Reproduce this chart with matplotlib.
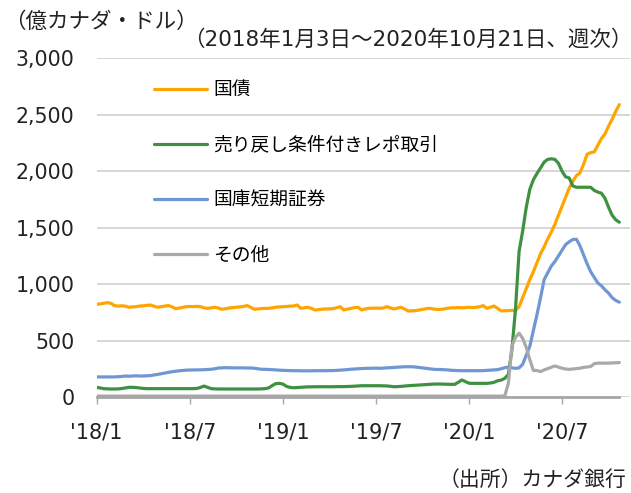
import pandas as pd
import matplotlib.pyplot as plt
import matplotlib.dates as mdates
from matplotlib.ticker import FuncFormatter

plt.rcParams['font.family'] = ['DejaVu Sans', 'Noto Sans CJK JP']

# weekly, 2018-01-03 .. 2020-10-21 (147 weeks)
dates = pd.date_range('2018-01-03', '2020-10-21', freq='W-WED')

# 国債
bonds = [821, 825, 830, 836, 830, 809, 805, 808, 805, 795, 798, 800, 806, 808, 812, 815,
         805, 795, 800, 805, 810, 800, 782, 788, 795, 800, 802, 800, 803, 800, 790, 785,
         790, 795, 788, 777, 782, 788, 792, 795, 798, 802, 810, 795, 777, 780, 783, 785,
         785, 790, 795, 798, 800, 802, 805, 806, 815, 786, 790, 795, 785, 771, 774, 778,
         780, 780, 783, 790, 800, 771, 778, 785, 792, 795, 771, 780, 786, 786, 788, 786,
         788, 800, 790, 780, 788, 795, 780, 762, 763, 765, 770, 776, 782, 786, 780, 776,
         776, 780, 786, 790, 790, 792, 790, 792, 795, 792, 795, 800, 809, 786, 795, 806,
         785, 762, 765, 765, 768,
         765, 800, 880, 960, 1040, 1110, 1190, 1270, 1330, 1400, 1460, 1530, 1610, 1690,
         1770, 1850, 1910, 1960, 1985, 2060, 2150, 2165, 2170, 2230, 2290, 2330, 2400,
         2460, 2530, 2590]

# 売り戻し条件付きレポ取引
repo = [86, 80, 74, 72, 71, 71, 72, 75, 80, 86, 86, 84, 80,
        76, 74, 74, 74, 74, 74, 74, 74, 74, 74, 74, 74, 74, 74, 74, 76, 85, 97, 85,
        74, 72, 71, 71, 71, 71, 71, 71, 71, 71, 71, 71, 71, 71, 72, 74, 80,
        100, 118, 121, 115, 95, 85, 82, 84, 86, 88, 90,
        90, 91, 91, 91, 91, 91, 91, 92, 92, 92, 93, 94, 96,
        98, 100, 100, 100, 100, 100, 100, 99, 98, 95, 91, 92, 94, 97, 100,
        102, 104, 106, 108, 110, 112, 114, 115, 115, 114, 113, 112, 112,
        130, 151, 136, 122, 121, 121, 121, 121, 121, 124, 130, 144, 150, 165,
        200, 420, 780, 1290, 1470, 1680, 1840, 1925, 1980, 2030, 2080, 2105, 2110, 2105,
        2070, 2000, 1950, 1940, 1870, 1858, 1858, 1858, 1858, 1858, 1830, 1815, 1805,
        1760, 1680, 1610, 1570, 1548]

# 国庫短期証券
tbills = [178, 178, 178, 178, 178, 178, 180, 182,
          186, 184, 186, 188, 186, 186, 188, 190, 195,
          200, 206, 212, 218, 224, 228, 232, 235, 238,
          239, 240, 240, 241, 242, 244, 246, 250,
          257, 258, 260, 259, 258, 258, 258, 258, 257, 257, 255, 250,
          246, 245, 244, 242, 240, 238, 236, 235, 234,
          233, 233, 232, 232, 232, 232, 233, 233, 233, 233, 234, 234, 236, 238, 240,
          243, 246, 248, 250, 252, 254, 254, 255, 256, 254, 256, 258, 260, 262, 264,
          266, 268, 268, 268, 266, 262, 258, 254, 250, 246, 244, 244,
          242, 240, 237, 235, 234, 233, 233, 233, 233, 233, 233, 234, 236, 238, 240, 243,
          250, 260, 265, 258, 254, 258, 290, 370, 450, 590, 730, 880, 1040, 1100, 1160,
          1200, 1250, 1300, 1350, 1375, 1395, 1398, 1340, 1260, 1180, 1110, 1060, 1010,
          985, 950, 920, 880, 855, 840]

# その他
other = [8, 8, 8, 8, 8, 8, 8, 8, 8, 8, 8, 8, 8, 8, 8, 8, 8, 8, 8, 8,
         8, 8, 8, 8, 8, 8, 8, 8, 8, 8, 8, 8, 8, 8, 8, 8, 8, 8, 8, 8,
         8, 8, 8, 8, 8, 8, 8, 8, 8, 8, 8, 8, 8, 8, 8, 8, 8, 8, 8, 8,
         8, 8, 8, 8, 8, 8, 8, 8, 8, 8, 8, 8, 8, 8, 8, 8, 8, 8, 8, 8,
         8, 8, 8, 8, 8, 8, 8, 8, 8, 8, 8, 8, 8, 8, 8, 8, 8, 8, 8, 8,
         8, 8, 8, 8, 8, 8, 8, 8, 8, 8, 8, 8, 8, 8,
         10, 120, 450, 530, 565, 520, 440, 330, 235, 235, 225, 240, 252, 265, 275, 265,
         255, 248, 245, 248, 252, 255, 262, 266, 270, 295, 300, 300, 300, 300, 302, 303, 305]

labels = ['国債', '売り戻し条件付きレポ取引', '国庫短期証券', 'その他']
colors = ['#FFA500', '#3F9142', '#6F97D3', '#A9A9A9']
tick_labels = ["'18/1", "'18/7", "'19/1", "'19/7", "'20/1", "'20/7"]

fig = plt.figure(figsize=(6.31, 4.93), dpi=100)
ax = fig.add_axes([0.1532, 0.1947, 0.8453, 0.687])

for s, lab, c in zip([bonds, repo, tbills, other], labels, colors):
    ax.plot(dates, s, color=c, lw=2.3, label=lab, solid_capstyle='round')

ax.set_ylim(0, 3000)
ax.set_yticks(range(0, 3001, 500))
ax.yaxis.set_major_formatter(FuncFormatter(lambda v, p: f'{int(v):,}'))
ax.set_xlim(dates[0], dates[0] + pd.Timedelta(weeks=149))
ax.set_xticks(dates[::26])
ax.set_xticklabels(tick_labels)

ax.grid(axis='y', color='#D0D0D0', lw=1.2)
ax.set_axisbelow(True)
for sp in ['top', 'right', 'left']:
    ax.spines[sp].set_visible(False)
ax.spines['bottom'].set_color('#A6A6A6')
ax.spines['bottom'].set_linewidth(2)
ax.spines['bottom'].set_bounds(mdates.date2num(dates[0]), mdates.date2num(dates[-1]))
ax.tick_params(axis='y', length=0, pad=16, labelsize=14.8, labelcolor='#222222')
ax.tick_params(axis='x', length=5, width=1, color='#A6A6A6', pad=13, labelsize=15,
               labelcolor='#222222')

ax.legend(loc='upper left', bbox_to_anchor=(0.108, 0.935), frameon=False, fontsize=13.5,
          handlelength=2.8, handletextpad=0.35, labelspacing=1.93, borderaxespad=0,
          borderpad=0)

fig.text(0.006, 0.956, '（億カナダ・ドル）', fontsize=15.5, va='center', ha='left',
         color='#222222')
fig.text(0.29, 0.92, '（2018年1月3日～2020年10月21日、週次）', fontsize=15.5,
         va='center', ha='left', color='#222222')
fig.text(0.992, 0.026, '（出所）カナダ銀行', fontsize=15, va='center', ha='right',
         color='#222222')

fig.savefig('out.png', dpi=100)
